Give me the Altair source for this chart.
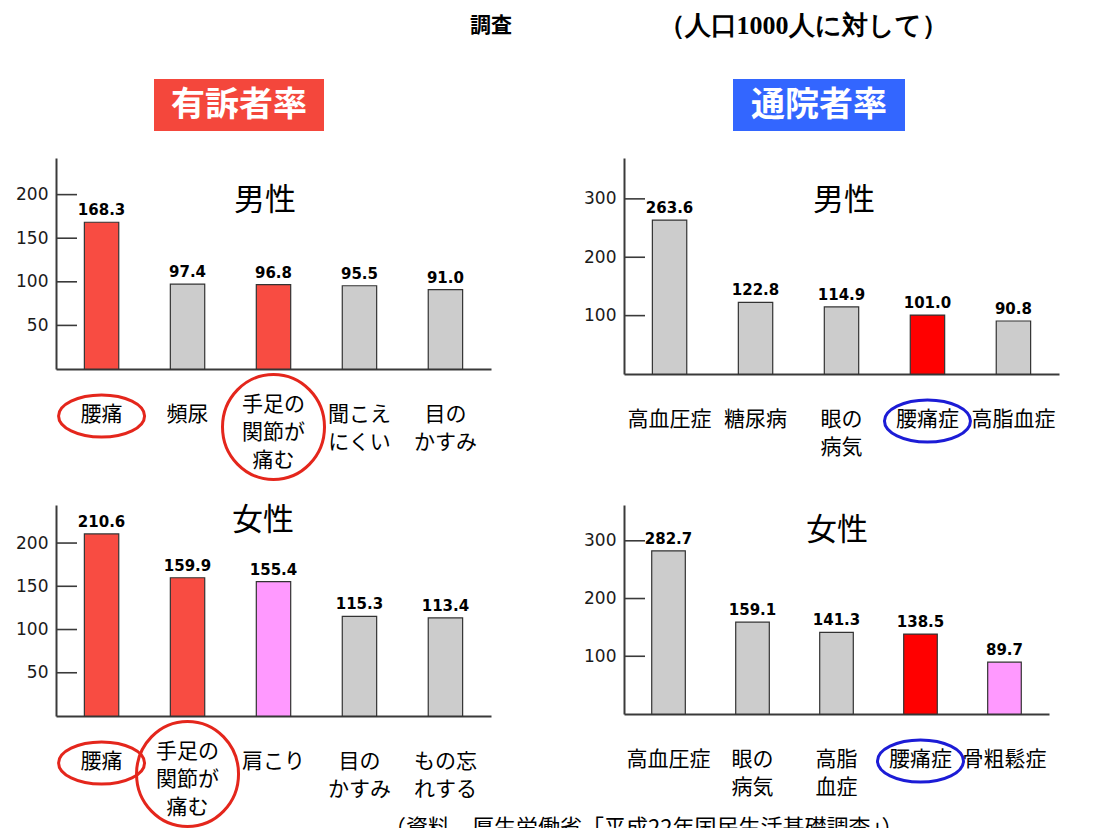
import altair as alt

# ---------------- data ----------------
# 有訴者率（男性）
m_sym_cats = ["腰痛", "頻尿", "手足の\n関節が\n痛む", "聞こえ\nにくい", "目の\nかすみ"]
m_sym_vals = [168.3, 97.4, 96.8, 95.5, 91.0]
m_sym_kind = ["focus", "other", "focus", "other", "other"]

# 通院者率（男性）
m_vis_cats = ["高血圧症", "糖尿病", "眼の\n病気", "腰痛症", "高脂血症"]
m_vis_vals = [263.6, 122.8, 114.9, 101.0, 90.8]
m_vis_kind = ["other", "other", "other", "focus2", "other"]

# 有訴者率（女性）
f_sym_cats = ["腰痛", "手足の\n関節が\n痛む", "肩こり", "目の\nかすみ", "もの忘\nれする"]
f_sym_vals = [210.6, 159.9, 155.4, 115.3, 113.4]
f_sym_kind = ["focus", "focus", "pink", "other", "other"]

# 通院者率（女性）
f_vis_cats = ["高血圧症", "眼の\n病気", "高脂\n血症", "腰痛症", "骨粗鬆症"]
f_vis_vals = [282.7, 159.1, 141.3, 138.5, 89.7]
f_vis_kind = ["other", "other", "other", "focus2", "pink"]

sym_ticks = [50, 100, 150, 200]
vis_ticks = [100, 200, 300]

title_left = "調査"
title_right = "（人口1000人に対して）"
header_sym = "有訴者率"
header_vis = "通院者率"
source_text = "（資料　厚生労働省「平成22年国民生活基礎調査」）"

# ---------------- styles ----------------
FONT_JP = "Noto Sans CJK JP"
FONT_NUM = "DejaVu Sans"
AXIS_COLOR = "#3a3a3a"
KIND_DOMAIN = ["focus", "focus2", "pink", "other"]
KIND_RANGE = ["#f84c42", "#ff0000", "#ff99ff", "#cccccc"]
RING_RED = "#e4261c"
RING_BLUE = "#1c1cd6"
ELL_WIDE = "M -1 0 A 1 0.49 0 1 1 1 0 A 1 0.49 0 1 1 -1 0 Z"
ELL_ROUND = "M -1 0 A 1 1.03 0 1 1 1 0 A 1 1.03 0 1 1 -1 0 Z"


def one(values):
    return alt.InlineData(values=values)


def free_text(txt, x, y, size, **kw):
    return alt.Chart(one([{"t": txt}])).mark_text(fontSize=size, **kw).encode(
        x=alt.value(x), y=alt.value(y), text="t:N"
    )


def header(txt, x0, x1, y0, y1, fill):
    box = alt.Chart(one([{"t": txt}])).mark_rect(color=fill).encode(
        x=alt.value(x0), x2=alt.value(x1), y=alt.value(y0), y2=alt.value(y1)
    )
    lab = free_text(txt, (x0 + x1) / 2, (y0 + y1) / 2 + 1, 34, font=FONT_JP,
                    fontWeight="bold", color="white", baseline="middle")
    return [box, lab]


def panel(cats, vals, kinds, ticks, ymax, width, height, ring_color, extras):
    rows = []
    for c, v, k in zip(cats, vals, kinds):
        ls = c.split("\n")
        m = max(len(s) for s in ls)
        rows.append({
            "cat": c, "val": v, "kind": k,
            "label": [s + "\u3000" * (m - len(s)) for s in ls],
            "n": len(ls),
        })
    base = alt.Chart(one(rows))
    xs = alt.Scale(paddingInner=0.6, paddingOuter=0.33)
    x_axis = alt.Axis(title=None, labels=False, ticks=False,
                      domainColor=AXIS_COLOR, domainWidth=2)
    ysc = alt.Scale(domain=[0, ymax], nice=False, zero=True)
    y_axis = alt.Axis(title=None, values=ticks, ticks=False, grid=False,
                      labelFont=FONT_NUM, labelFontSize=17, labelColor="#1a1a1a",
                      labelPadding=8, domainColor=AXIS_COLOR, domainWidth=2)
    x_main = alt.X("cat:N", sort=cats, scale=xs, axis=x_axis)
    y_main = alt.Y("val:Q", scale=ysc, axis=y_axis)

    bars = base.mark_bar(stroke="#333", strokeWidth=1.2).encode(
        x=x_main, y=y_main,
        color=alt.Color("kind:N", scale=alt.Scale(domain=KIND_DOMAIN, range=KIND_RANGE), legend=None),
    )
    vals_txt = base.mark_text(baseline="alphabetic", dy=-7, font=FONT_NUM, fontWeight="bold",
                              fontSize=15, color="black").encode(
        x=x_main, y=y_main, text=alt.Text("val:Q", format=".1f")
    )
    tick_rules = alt.Chart(one([{"val": t} for t in ticks])).mark_rule(
        color=AXIS_COLOR, strokeWidth=1.6).encode(
        x=alt.value(1), x2=alt.value(21), y=y_main
    )
    lab_short = base.transform_filter("datum.n < 3").mark_text(
        font=FONT_JP, fontSize=21, lineHeight=28, baseline="middle", align="center", color="black"
    ).encode(x=x_main, y=alt.value(height + 46), text="label:N")
    lab_long = base.transform_filter("datum.n >= 3").mark_text(
        font=FONT_JP, fontSize=21, lineHeight=28, baseline="top", align="center", color="black"
    ).encode(x=x_main, y=alt.value(height + 25), text="label:N")
    circled = alt.FieldOneOfPredicate(field="kind", oneOf=["focus", "focus2"])
    ring_short = base.transform_filter(circled).transform_filter("datum.n < 3").mark_point(
        shape=ELL_WIDE, size=7396, filled=False, color=ring_color, strokeWidth=3, opacity=1
    ).encode(x=x_main, y=alt.value(height + 47))
    ring_long = base.transform_filter(circled).transform_filter("datum.n >= 3").mark_point(
        shape=ELL_ROUND, size=10404, filled=False, color=ring_color, strokeWidth=3, opacity=1
    ).encode(x=x_main, y=alt.value(height + 58))

    return alt.layer(bars, vals_txt, tick_rules, lab_short, lab_long, ring_short, ring_long,
                     *extras).properties(width=width, height=height)


tl = panel(m_sym_cats, m_sym_vals, m_sym_kind, sym_ticks, 242, 435, 211, RING_RED, [
    free_text("男性", 209, 43, 31, font=FONT_JP, baseline="middle"),
    *header(header_sym, 98, 268, -79, -27, "#f4473c"),
    free_text(title_left, 435, -132, 21, font=FONT_JP, fontWeight="bold", baseline="middle"),
    free_text(title_right, 747, -132, 26, font="Liberation Serif", fontWeight="bold", baseline="middle"),
])
tr = panel(m_vis_cats, m_vis_vals, m_vis_kind, vis_ticks, 370, 435, 216, RING_BLUE, [
    free_text("男性", 220, 43, 31, font=FONT_JP, baseline="middle"),
    *header(header_vis, 109, 281, -79, -27, "#3366ff"),
])
bl = panel(f_sym_cats, f_sym_vals, f_sym_kind, sym_ticks, 244, 435, 211, RING_RED, [
    free_text("女性", 207, 16, 31, font=FONT_JP, baseline="middle"),
    free_text(source_text, 328, 313, 22, font=FONT_JP, baseline="top", align="left"),
])
br = panel(f_vis_cats, f_vis_vals, f_vis_kind, vis_ticks, 362, 425, 209, RING_BLUE, [
    free_text("女性", 213, 26, 31, font=FONT_JP, baseline="middle"),
])

chart = alt.concat(
    tl, tr, bl, br, columns=2, spacing={"row": 131, "column": 133}, bounds="flush"
).resolve_scale(x="independent", y="independent").properties(
    padding={"left": 7, "top": 5, "right": 5, "bottom": 5}
).configure_view(stroke=None)

chart.save("out.html", embed_options={"renderer": "svg", "actions": False})
